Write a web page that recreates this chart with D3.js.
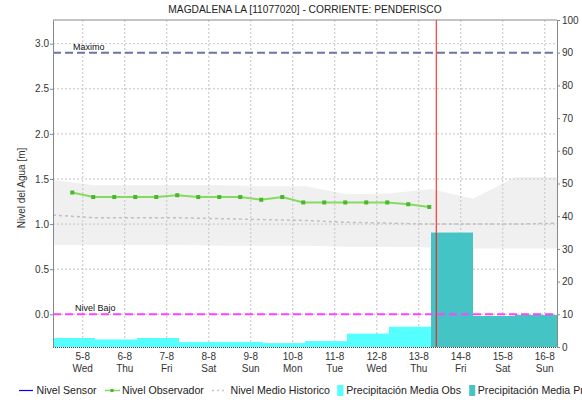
<!DOCTYPE html>
<html>
<head>
<meta charset="utf-8">
<script src="https://cdn.jsdelivr.net/npm/d3@7"></script>
<style>
  html, body { margin: 0; padding: 0; background: #fff; }
  svg { display: block; font-family: "Liberation Sans", Arial, sans-serif; }
</style>
</head>
<body>
<svg id="chart" width="582" height="404"></svg>
<script>
// ---------------- DATA ----------------
const titleText = "MAGDALENA LA [11077020] - CORRIENTE: PENDERISCO";
const yLeftLabel = "Nivel del Agua [m]";

const tickDates = ["2015-08-05","2015-08-06","2015-08-07","2015-08-08","2015-08-09","2015-08-10",
                   "2015-08-11","2015-08-12","2015-08-13","2015-08-14","2015-08-15","2015-08-16"];
const tickDayLabels = ["5-8","6-8","7-8","8-8","9-8","10-8","11-8","12-8","13-8","14-8","15-8","16-8"];
const tickWeekLabels = ["Wed","Thu","Fri","Sat","Sun","Mon","Tue","Wed","Thu","Fri","Sat","Sun"];

const leftTicks = [0.0, 0.5, 1.0, 1.5, 2.0, 2.5, 3.0];
const rightTicks = [0, 10, 20, 30, 40, 50, 60, 70, 80, 90, 100];

// Nivel Observador
const obsTimes = ["2015-08-04 18:00","2015-08-05 06:00","2015-08-05 18:00","2015-08-06 06:00",
                  "2015-08-06 18:00","2015-08-07 06:00","2015-08-07 18:00","2015-08-08 06:00",
                  "2015-08-08 18:00","2015-08-09 06:00","2015-08-09 18:00","2015-08-10 06:00",
                  "2015-08-10 18:00","2015-08-11 06:00","2015-08-11 18:00","2015-08-12 06:00",
                  "2015-08-12 18:00","2015-08-13 06:00"];
const obsValues = [1.35, 1.30, 1.30, 1.30, 1.30, 1.32, 1.30, 1.30, 1.30, 1.27, 1.30, 1.24,
                   1.24, 1.24, 1.24, 1.24, 1.22, 1.19];

// Historical band and median
const histTimes = ["2015-08-04 07:00","2015-08-05 07:00","2015-08-06 07:00","2015-08-07 07:00",
                   "2015-08-08 07:00","2015-08-09 07:00","2015-08-10 07:00","2015-08-11 07:00",
                   "2015-08-12 07:00","2015-08-13 07:00","2015-08-14 07:00","2015-08-15 07:00",
                   "2015-08-16 07:00"];
const histMax = [1.49, 1.43, 1.43, 1.43, 1.43, 1.42, 1.42, 1.33, 1.34, 1.39, 1.28, 1.52, 1.52];
const histMin = [0.77, 0.77, 0.77, 0.77, 0.76, 0.76, 0.76, 0.75, 0.75, 0.74, 0.73, 0.73, 0.73];
const histMedian = [1.10, 1.07, 1.07, 1.07, 1.06, 1.05, 1.04, 1.02, 1.01, 1.00, 1.00, 1.00, 1.01];

// Precipitation (daily periods starting 07:00)
const precObsStart = ["2015-08-04 07:00","2015-08-05 07:00","2015-08-06 07:00","2015-08-07 07:00",
                      "2015-08-08 07:00","2015-08-09 07:00","2015-08-10 07:00","2015-08-11 07:00",
                      "2015-08-12 07:00"];
const precObsValues = [2.75, 2.3, 2.75, 1.5, 1.5, 1.2, 1.8, 4.1, 6.2];
const precFcStart = ["2015-08-13 07:00","2015-08-14 07:00","2015-08-15 07:00"];
const precFcValues = [35, 9.5, 9.8];

// Reference levels and current time
const levelMaximo = 2.9;
const levelBajo = 0.0;
const nowTime = "2015-08-13 10:00";
const xDomain = ["2015-08-04 07:00","2015-08-16 07:00"];
const yLeftDomain = [-0.3625, 3.2625];
const yRightDomain = [0, 100];

const legendItems = ["Nivel Sensor","Nivel Observador","Nivel Medio Historico",
                     "Precipitación Media Obs","Precipitación Media Pronosticada"];

// ---------------- CHART ----------------
const parseT = d3.timeParse("%Y-%m-%d %H:%M");
const parseD = d3.timeParse("%Y-%m-%d");
const svg = d3.select("#chart");
const L = 53, R = 557, T = 20, B = 347;
const font = "'Liberation Sans', Arial, sans-serif";

const x = d3.scaleTime().domain(xDomain.map(parseT)).range([L, R]);
const yL = d3.scaleLinear().domain(yLeftDomain).range([B, T]);
const yR = d3.scaleLinear().domain(yRightDomain).range([B, T]);

// Title
svg.append("text").attr("x", (L + R) / 2).attr("y", 12.5).attr("text-anchor", "middle")
  .attr("font-size", 10.2).attr("fill", "#222").text(titleText);

const plot = svg.append("g");
plot.append("clipPath").attr("id", "clip").append("rect")
  .attr("x", L).attr("y", T).attr("width", R - L).attr("height", B - T);
const g = plot.append("g").attr("clip-path", "url(#clip)");

// Historical band
const hist = histTimes.map((t, i) => ({t: parseT(t), max: histMax[i], min: histMin[i], med: histMedian[i]}));
g.append("path").datum(hist)
  .attr("d", d3.area().x(d => x(d.t)).y0(d => yL(d.min)).y1(d => yL(d.max)))
  .attr("fill", "#f0f0f0");

// Gridlines
const tickTimes = tickDates.map(parseD);
g.selectAll(".vg").data(tickTimes).join("line")
  .attr("x1", d => x(d)).attr("x2", d => x(d)).attr("y1", T).attr("y2", B)
  .attr("stroke", "#c4c4c4").attr("stroke-width", 1).attr("stroke-dasharray", "2,2");
g.selectAll(".hg").data(leftTicks).join("line")
  .attr("x1", L).attr("x2", R).attr("y1", d => yL(d)).attr("y2", d => yL(d))
  .attr("stroke", "#c4c4c4").attr("stroke-width", 1).attr("stroke-dasharray", "2,2");

// Median line
g.append("path").datum(hist)
  .attr("d", d3.line().x(d => x(d.t)).y(d => yL(d.med)))
  .attr("fill", "none").attr("stroke", "#c0c0c0").attr("stroke-width", 1.5)
  .attr("stroke-dasharray", "3,3");

// Precipitation bars
const obsBars = precObsStart.map((s, i) => ({s: parseT(s), e: d3.timeDay.offset(parseT(s), 1), v: precObsValues[i]}));
g.selectAll(".pobs").data(obsBars).join("rect")
  .attr("x", d => x(d.s)).attr("width", d => x(d.e) - x(d.s))
  .attr("y", d => yR(d.v)).attr("height", d => yR(0) - yR(d.v))
  .attr("fill", "#55ffff");
const fcBars = precFcStart.map((s, i) => ({s: parseT(s), e: d3.timeDay.offset(parseT(s), 1), v: precFcValues[i]}));
g.selectAll(".pfc").data(fcBars).join("rect")
  .attr("x", d => x(d.s)).attr("width", d => x(d.e) - x(d.s))
  .attr("y", d => yR(d.v)).attr("height", d => yR(0) - yR(d.v))
  .attr("fill", "#44c4c4");

// Level lines
g.append("line").attr("x1", L).attr("x2", R).attr("y1", yL(levelMaximo)).attr("y2", yL(levelMaximo))
  .attr("stroke", "#6b74a6").attr("stroke-width", 2).attr("stroke-dasharray", "8,4");
g.append("line").attr("x1", L).attr("x2", R).attr("y1", yL(levelBajo)).attr("y2", yL(levelBajo))
  .attr("stroke", "#ff44ff").attr("stroke-width", 2).attr("stroke-dasharray", "8,4");
svg.append("text").attr("x", 73).attr("y", yL(levelMaximo) - 3).attr("font-size", 9).attr("fill", "#111").text("Maximo");
svg.append("text").attr("x", 75).attr("y", yL(levelBajo) - 3).attr("font-size", 9).attr("fill", "#111").text("Nivel Bajo");

// Observer series
const obs = obsTimes.map((t, i) => ({t: parseT(t), v: obsValues[i]}));
g.append("path").datum(obs)
  .attr("d", d3.line().x(d => x(d.t)).y(d => yL(d.v)))
  .attr("fill", "none").attr("stroke", "#86da62").attr("stroke-width", 2);
g.selectAll(".op").data(obs).join("rect")
  .attr("x", d => x(d.t) - 2).attr("y", d => yL(d.v) - 2).attr("width", 4).attr("height", 4)
  .attr("fill", "#48b82a");

// Current time line
g.append("line").attr("x1", x(parseT(nowTime))).attr("x2", x(parseT(nowTime)))
  .attr("y1", T).attr("y2", B).attr("stroke", "#ff1010").attr("stroke-width", 1);

// Frame
svg.append("line").attr("x1", L).attr("x2", R).attr("y1", T).attr("y2", T).attr("stroke", "#888");
svg.append("line").attr("x1", L).attr("x2", R).attr("y1", B + 0.5).attr("y2", B + 0.5)
  .attr("stroke", "#444").attr("stroke-dasharray", "1,1");

// Left axis
const axL = svg.append("g").attr("transform", `translate(${L},0)`)
  .call(d3.axisLeft(yL).tickValues(leftTicks).tickFormat(d3.format(".1f")).tickSize(3).tickSizeOuter(0));
axL.select(".domain").attr("stroke", "#888");
axL.selectAll(".tick line").attr("stroke", "#888");
axL.selectAll(".tick text").attr("font-family", font).attr("font-size", 10).attr("fill", "#333").attr("x", -4);

// Right axis
const axR = svg.append("g").attr("transform", `translate(${R},0)`)
  .call(d3.axisRight(yR).tickValues(rightTicks).tickFormat(d3.format("d")).tickSize(3).tickSizeOuter(0));
axR.select(".domain").attr("stroke", "#888");
axR.selectAll(".tick line").attr("stroke", "#888");
axR.selectAll(".tick text").attr("font-family", font).attr("font-size", 10).attr("fill", "#333").attr("x", 5);

// X axis labels
const xl = svg.append("g");
xl.selectAll(".d1").data(tickTimes).join("text")
  .attr("x", d => x(d)).attr("y", 359.5).attr("text-anchor", "middle")
  .attr("font-size", 10).attr("fill", "#333").text((d, i) => tickDayLabels[i]);
xl.selectAll(".d2").data(tickTimes).join("text")
  .attr("x", d => x(d)).attr("y", 371.5).attr("text-anchor", "middle")
  .attr("font-size", 10).attr("fill", "#333").text((d, i) => tickWeekLabels[i]);

// Y label
svg.append("text").attr("transform", "translate(25,188) rotate(-90)")
  .attr("text-anchor", "middle").attr("font-size", 10).attr("fill", "#333").text(yLeftLabel);

// Legend
const ly = 390.5;
const lg = svg.append("g").attr("font-size", 10.6).attr("fill", "#222");
lg.append("line").attr("x1", 19).attr("x2", 33).attr("y1", ly).attr("y2", ly).attr("stroke", "#0000ff").attr("stroke-width", 1.2);
lg.append("text").attr("x", 36.5).attr("y", ly + 3.8).text(legendItems[0]);
lg.append("line").attr("x1", 105).attr("x2", 120).attr("y1", ly).attr("y2", ly).attr("stroke", "#86da62").attr("stroke-width", 1.5);
lg.append("rect").attr("x", 110.5).attr("y", ly - 1.5).attr("width", 3).attr("height", 3).attr("fill", "#48b82a");
lg.append("text").attr("x", 122).attr("y", ly + 3.8).text(legendItems[1]);
lg.append("line").attr("x1", 212).attr("x2", 226).attr("y1", ly).attr("y2", ly).attr("stroke", "#c8c8c8").attr("stroke-width", 1.5).attr("stroke-dasharray", "2,3");
lg.append("text").attr("x", 230.5).attr("y", ly + 3.8).text(legendItems[2]);
lg.append("rect").attr("x", 337.2).attr("y", ly - 5.5).attr("width", 6.3).attr("height", 11).attr("fill", "#55ffff");
lg.append("text").attr("x", 346.2).attr("y", ly + 3.8).text(legendItems[3]);
lg.append("rect").attr("x", 469.2).attr("y", ly - 5.5).attr("width", 6).attr("height", 11).attr("fill", "#44c4c4");
lg.append("text").attr("x", 477.8).attr("y", ly + 3.8).text(legendItems[4]);
</script>
</body>
</html>
